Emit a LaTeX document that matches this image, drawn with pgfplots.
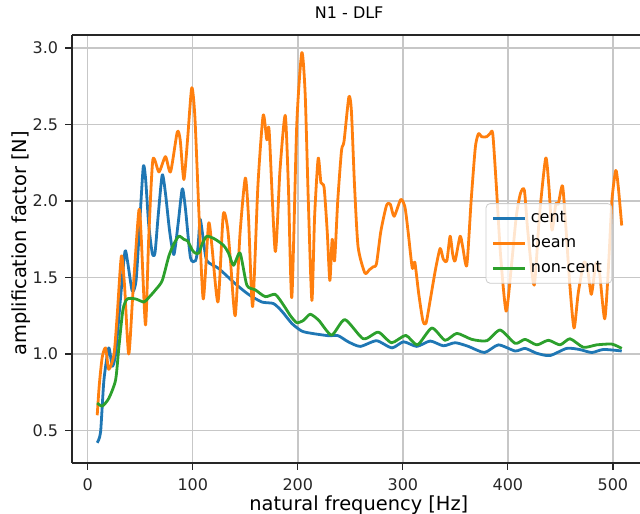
\documentclass[border=0pt]{standalone}
\usepackage{fontspec}
\setmainfont{DejaVu Sans}
\usepackage{pgfplots}
\pgfplotsset{compat=1.18}

\definecolor{mplblue}{HTML}{1F77B4}
\definecolor{mplorange}{HTML}{FF7F0E}
\definecolor{mplgreen}{HTML}{2CA02C}

\begin{document}
\begin{tikzpicture}
\begin{axis}[
  at={(0,0)}, anchor=south west, clip=false,
  scale only axis, width=284pt, height=214pt,
  xmin=-15, xmax=525.8, ymin=0.288, ymax=3.085,
  axis y line*=left,
  xtick pos=bottom, ytick pos=left,
  xtick={0,100,200,300,400,500},
  ytick={0.5,1.0,1.5,2.0,2.5,3.0},
  yticklabel style={/pgf/number format/fixed, /pgf/number format/fixed zerofill, /pgf/number format/precision=1},
  xticklabel style={yshift=-1pt},
  /pgf/number format/assume math mode=true,
  tick align=outside, major tick length=3.4pt,
  tick style={black!85, line width=0.6pt},
  axis line style={black!85, line width=0.6pt},
  grid=major, grid style={black!22, line width=0.7pt},
  tick label style={font=\fontsize{8}{9.6}\selectfont, black!85},
  xlabel={natural frequency [Hz]},
  xlabel style={at={(axis description cs:0.505,0)}, anchor=base, yshift=-23.5pt, font=\fontsize{9.7}{11.6}\selectfont},
  ylabel={amplification factor [N]},
  ylabel style={at={(axis description cs:0,0.513)}, anchor=base, yshift=22.5pt, font=\fontsize{9.7}{11.6}\selectfont},
  legend cell align=left,
  legend style={at={(0.951,0.607)}, anchor=north east, font=\fontsize{8}{9.6}\selectfont,
    fill=white, fill opacity=0.8, text opacity=1, draw=black!20, rounded corners=2pt, row sep=1pt},
  legend image code/.code={\draw[#1] (0pt,0pt) -- (16pt,0pt);},
  every axis plot/.append style={line width=1.4pt, line join=round},
]
\addplot[mplblue, smooth, tension=0.4] coordinates {
(9,0.42) (12.2,0.49) (15.4,0.83) (20,1.04) (23.3,0.92) (26.5,1.00) (31,1.35) (35.4,1.67) (38,1.60)
(42.4,1.41) (46,1.48) (49,1.80) (52.8,2.22) (55,2.15) (58,1.85) (61.4,1.66) (64,1.66) (67,1.90)
(70.9,2.17) (74,2.05) (78,1.80) (82,1.65) (86,1.85) (90,2.08) (93,1.95) (97.8,1.63) (102.6,1.61)
(105,1.70) (107,1.88) (110,1.75) (113.4,1.61) (124.5,1.56) (140.4,1.46) (153,1.39) (165.8,1.34)
(176.8,1.33) (184.8,1.28) (194.3,1.20) (203.8,1.15) (213.4,1.135) (229,1.12) (238.4,1.12) (248,1.08)
(259.4,1.05) (275,1.087) (289.5,1.04) (300.6,1.08) (313.3,1.05) (326,1.085) (338.6,1.054)
(349.8,1.074) (362.4,1.05) (377.7,1.01) (391,1.06) (406.9,1.02) (416.4,1.037) (427.5,1.005)
(440,0.99) (456,1.037) (468,1.03) (479.9,1.01) (491,1.03) (508.4,1.02)
};
\addlegendentry{cent}
\addplot[mplorange, smooth, tension=0.4] coordinates {
(9,0.60) (11,0.80) (13.8,0.98) (17,1.04) (20,0.90) (25,1.00) (28,1.25) (32,1.64) (35,1.45) (39,1.00)
(43,1.40) (48.7,1.94) (51,1.75) (55,1.19) (58,1.75) (62,2.27) (67.8,2.19) (74,2.29) (78.8,2.19)
(85.2,2.45) (88,2.40) (91.5,2.14) (95,2.40) (99,2.74) (102,2.55) (106,1.90) (110,1.36) (115,1.85)
(118,1.72) (124,1.34) (129,1.91) (133,1.83) (136,1.60) (140.4,1.25) (145,1.79) (150,2.15) (153,1.90)
(157,1.31) (162,2.10) (167,2.56) (170.5,2.40) (172.7,2.46) (178.5,1.67) (183,2.20) (188,2.56)
(191,2.10) (194.3,1.37) (199,2.50) (203.8,2.97) (207,2.70) (210,2.00) (213.4,1.35) (216,1.90)
(219.4,2.28) (222,2.12) (225,2.09) (228,1.80) (230.5,1.48) (232.7,1.75) (235,1.61) (238,2.00)
(241.6,2.33) (244,2.39) (248.6,2.68) (251,2.59) (254,2.10) (257.4,1.70) (263.8,1.53) (268,1.55)
(271.7,1.57) (274.9,1.59) (279,1.80) (284.4,1.97) (288,1.98) (291.7,1.90) (298,2.01) (302,1.96)
(305,1.80) (309,1.56) (311.4,1.60) (315,1.40) (319,1.22) (322,1.20) (326,1.35) (331,1.55)
(335.5,1.69) (338.5,1.62) (341.9,1.61) (345,1.77) (347.5,1.65) (349.8,1.61) (354.5,1.77) (357,1.70)
(360.9,1.58) (365,2.00) (369,2.35) (372,2.44) (375,2.42) (379.8,2.42) (383,2.44) (385.6,2.44)
(389,2.10) (393,1.65) (398.3,1.28) (403,1.55) (408,1.90) (412,2.05) (415.7,2.07) (419,1.80)
(425,1.45) (430,1.90) (436,2.28) (439,2.10) (442,1.81) (445.6,1.98) (448,1.98) (452,2.10) (455,1.85)
(459,1.45) (463,1.17) (467,1.40) (472.5,1.60) (476,1.55) (479.5,1.39) (483.7,1.59) (487,1.55)
(492.2,1.23) (496,1.60) (499,2.00) (502.7,2.20) (505,2.10) (508.4,1.84)
};
\addlegendentry{beam}
\addplot[mplgreen, smooth, tension=0.4] coordinates {
(9,0.68) (13.8,0.66) (20,0.71) (26.5,0.83) (29.7,1.05) (33.5,1.29) (37.6,1.36) (45.6,1.36)
(53.5,1.34) (58.2,1.37) (64.6,1.42) (70.9,1.48) (77.2,1.64) (82,1.72) (86.8,1.77) (91.5,1.75)
(95,1.74) (99.5,1.68) (102.3,1.66) (105.8,1.66) (109,1.72) (113.4,1.77) (121.3,1.75) (129.3,1.71)
(134,1.66) (138.8,1.58) (145,1.66) (151.5,1.45) (159.4,1.42) (169,1.375) (178.5,1.39) (186.4,1.32)
(193,1.25) (199,1.205) (205.4,1.22) (211.8,1.26) (220,1.22) (232.2,1.124) (244.8,1.225) (262.3,1.10)
(276.6,1.143) (289.2,1.074) (302.8,1.122) (313.9,1.06) (327.6,1.17) (340.2,1.09) (351.4,1.135)
(365.6,1.096) (379.9,1.087) (392.6,1.157) (406.9,1.07) (416.4,1.096) (427.5,1.06) (438.6,1.09)
(449.7,1.06) (459.2,1.10) (471.9,1.044) (484.6,1.06) (498.9,1.065) (508.4,1.037)
};
\addlegendentry{non-cent}
\node[anchor=base, font=\fontsize{8}{9.6}\selectfont] at ([yshift=8pt]axis description cs:0.488,1) {N1 - DLF};
\end{axis}
\pgfresetboundingbox
\useasboundingbox (-36pt,-25pt) rectangle (284pt,231.5pt);
\end{tikzpicture}
\end{document}
